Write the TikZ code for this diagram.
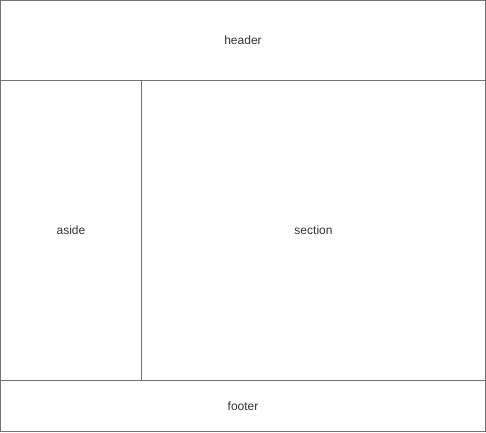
\documentclass[tikz,border=0pt]{standalone}
\usepackage{fontspec}
\setmainfont{Liberation Sans}
\usetikzlibrary{positioning}

\begin{document}
\begin{tikzpicture}[x=1bp, y=-1bp]

\tikzset{region/.style = {shape=rectangle, draw=black!55, line width=1bp, inner sep=0pt,
  outer sep=0pt, anchor=north west, font=\fontsize{12bp}{14bp}\selectfont, text=black!80}}
\useasboundingbox (0,0) rectangle (486,432);
% regions
\node[region, minimum width=485bp, minimum height=80bp] (header) at (0.5,0.5) {header};
\node[region, minimum width=141bp, minimum height=300bp] (aside) at (0.5,80.5) {aside};
\node[region, minimum width=344bp, minimum height=300bp] (section) at (141.5,80.5) {section};
\node[region, minimum width=485bp, minimum height=51bp] (footer) at (0.5,380.5) {footer};

\end{tikzpicture}
\end{document}
